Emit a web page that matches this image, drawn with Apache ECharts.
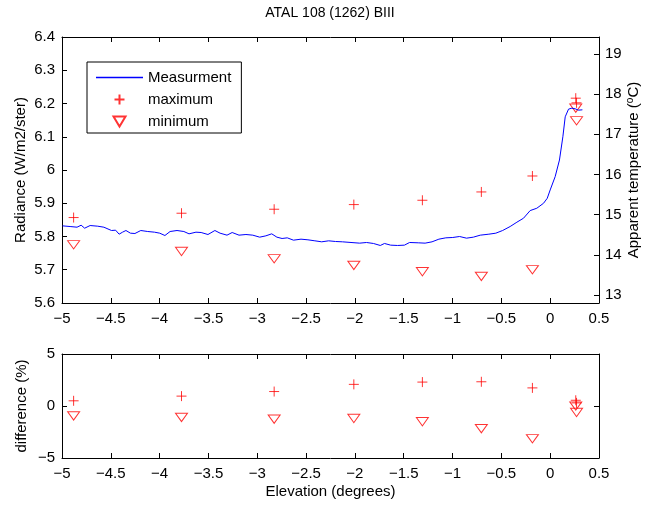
<!DOCTYPE html>
<html>
<head>
<meta charset="utf-8">
<script src="https://cdn.jsdelivr.net/npm/echarts@6/dist/echarts.min.js"></script>
<style>
  html, body { margin: 0; padding: 0; background: #fff; }
  #chart { width: 648px; height: 506px; }
</style>
</head>
<body>
<div id="chart"></div>
<script>
var elevMeas = [-4.994, -4.917, -4.846, -4.804, -4.768, -4.712, -4.634, -4.571, -4.493, -4.451,
  -4.415, -4.380, -4.345, -4.299, -4.253, -4.193, -4.122, -4.052, -3.999, -3.946,
  -3.893, -3.822, -3.752, -3.699, -3.628, -3.575, -3.505, -3.434, -3.381, -3.310,
  -3.257, -3.187, -3.116, -3.046, -2.975, -2.912, -2.852, -2.799, -2.746, -2.693,
  -2.629, -2.552, -2.481, -2.410, -2.340, -2.269, -2.199, -2.128, -2.040, -1.951,
  -1.881, -1.810, -1.740, -1.697, -1.634, -1.563, -1.493, -1.440, -1.351, -1.281,
  -1.210, -1.140, -1.069, -0.998, -0.928, -0.857, -0.787, -0.716, -0.628, -0.557,
  -0.487, -0.410, -0.341, -0.273, -0.205, -0.137, -0.068, -0.030, 0.000, 0.051,
  0.095, 0.130, 0.154, 0.188, 0.222, 0.256, 0.290, 0.330];
var radMeas = [5.832, 5.830, 5.828, 5.834, 5.825, 5.833, 5.831, 5.828, 5.818, 5.819,
  5.807, 5.813, 5.818, 5.810, 5.809, 5.818, 5.815, 5.813, 5.810, 5.803,
  5.815, 5.818, 5.815, 5.808, 5.813, 5.812, 5.806, 5.818, 5.810, 5.804,
  5.812, 5.804, 5.806, 5.804, 5.798, 5.802, 5.808, 5.798, 5.794, 5.796,
  5.789, 5.792, 5.790, 5.787, 5.784, 5.787, 5.785, 5.784, 5.782, 5.780,
  5.782, 5.779, 5.773, 5.779, 5.774, 5.773, 5.774, 5.782, 5.781, 5.780,
  5.784, 5.792, 5.796, 5.797, 5.800, 5.795, 5.798, 5.804, 5.807, 5.810,
  5.818, 5.830, 5.843, 5.855, 5.878, 5.885, 5.900, 5.915, 5.940, 5.980,
  6.030, 6.100, 6.160, 6.183, 6.186, 6.184, 6.180, 6.181];

// model max / min at the sample elevations
var elevPts = [-4.881, -3.776, -2.827, -2.011, -1.309, -0.705, -0.182, 0.262, 0.270];
var radMax = [5.857, 5.870, 5.882, 5.896, 5.909, 5.934, 5.982, 6.216, 6.202];
var radMin = [5.775, 5.755, 5.733, 5.713, 5.694, 5.680, 5.700, 6.186, 6.148];
var diffMax = [0.50, 0.95, 1.39, 2.08, 2.30, 2.33, 1.74, 0.55, 0.30];
var diffMin = [-0.95, -1.10, -1.26, -1.20, -1.51, -2.18, -3.15, 0.00, -0.62];

var tempTicks = [13, 14, 15, 16, 17, 18, 19];

var FONT = 'Liberation Sans';
var FS = 15;
var PLUS = 'path://M0,5 L10,5 M5,0 L5,10';
var TRI = 'path://M0,0 L12,0 L6,10 Z';
var LINE_ICON = 'path://M0,0 L47,0 L47,1.3 L0,1.3 Z';

function pairs(xs, ys) {
  return xs.map(function (x, i) { return [x, ys[i]]; });
}
function minus(v) {
  return String(v).replace('-', '\u2212');
}

var axisLine = { show: true, onZero: false, lineStyle: { color: '#000', width: 1 } };
var tick = { show: true, inside: true, length: 5, lineStyle: { color: '#000' } };
var label = { color: '#000', fontFamily: FONT, fontSize: FS, formatter: minus };
var nameStyle = { color: '#000', fontFamily: FONT, fontSize: FS };
var hollow = { color: 'rgba(0,0,0,0)', borderColor: '#ff0000', borderWidth: 1 };

function elevAxis(grid, pos, showLabels) {
  return {
    type: 'value', gridIndex: grid, position: pos, min: -5, max: 0.5, interval: 0.5,
    axisLine: axisLine, axisTick: tick, splitLine: { show: false },
    axisLabel: showLabels ? Object.assign({ margin: 8, showMinLabel: true, showMaxLabel: true }, label) : { show: false },
    name: (grid === 1 && showLabels) ? 'Elevation (degrees)' : '',
    nameLocation: 'middle', nameGap: 26, nameMoveOverlap: false, nameTextStyle: nameStyle
  };
}

var chart = echarts.init(document.getElementById('chart'), null, { renderer: 'canvas' });

chart.setOption({
  animation: false,
  backgroundColor: '#fff',
  title: {
    text: 'ATAL 108 (1262) BIII', left: 330, top: 6, padding: 0, textAlign: 'center',
    textStyle: { color: '#000', fontFamily: FONT, fontSize: 14, fontWeight: 'normal' }
  },
  legend: {
    data: [
      { name: 'Measurment', icon: LINE_ICON, itemStyle: { color: '#0000ff', borderWidth: 0 } },
      'maximum',
      'minimum'
    ],
    orient: 'vertical', left: 87, top: 62,
    backgroundColor: '#fff', borderColor: '#000', borderWidth: 1,
    padding: [8, 10, 4, 9], itemWidth: 47, itemHeight: 10, itemGap: 7,
    textStyle: { color: '#000', fontFamily: FONT, fontSize: FS }
  },
  grid: [
    { left: 62, top: 37, width: 537, height: 266, containLabel: false, outerBoundsMode: 'none' },
    { left: 62, top: 354, width: 537, height: 104, containLabel: false, outerBoundsMode: 'none' }
  ],
  xAxis: [
    elevAxis(0, 'bottom', true),
    elevAxis(0, 'top', false),
    elevAxis(1, 'bottom', true),
    elevAxis(1, 'top', false)
  ],
  yAxis: [
    {
      type: 'value', gridIndex: 0, position: 'left', min: 5.6, max: 6.4, interval: 0.1,
      axisLine: axisLine, axisTick: tick, splitLine: { show: false },
      axisLabel: Object.assign({ margin: 7, showMinLabel: true, showMaxLabel: true }, label),
      name: 'Radiance (W/m2/ster)', nameLocation: 'middle', nameGap: 34, nameRotate: 90,
      nameMoveOverlap: false, nameTextStyle: nameStyle
    },
    {
      type: 'value', gridIndex: 0, position: 'right', min: 12.8, max: 19.42,
      axisLine: axisLine,
      axisTick: Object.assign({ customValues: tempTicks }, tick),
      splitLine: { show: false },
      axisLabel: Object.assign({ margin: 6, customValues: tempTicks }, label),
      name: '{a|Apparent temperature (}{s|o}{a|C)}', nameLocation: 'middle', nameGap: 26, nameRotate: 90,
      nameMoveOverlap: false,
      nameTextStyle: {
        color: '#000', fontFamily: FONT, fontSize: FS,
        rich: {
          a: { color: '#000', fontFamily: FONT, fontSize: FS },
          s: { color: '#000', fontFamily: FONT, fontSize: 10, padding: [0, 0, 8, 0] }
        }
      }
    },
    {
      type: 'value', gridIndex: 1, position: 'left', min: -5, max: 5, interval: 5,
      axisLine: axisLine, axisTick: tick, splitLine: { show: false },
      axisLabel: Object.assign({ margin: 7, showMinLabel: true, showMaxLabel: true }, label),
      name: 'difference (%)', nameLocation: 'middle', nameGap: 33, nameRotate: 90,
      nameMoveOverlap: false, nameTextStyle: nameStyle
    },
    {
      type: 'value', gridIndex: 1, position: 'right', min: -5, max: 5, interval: 5,
      axisLine: axisLine, axisTick: tick, splitLine: { show: false },
      axisLabel: { show: false }
    }
  ],
  series: [
    {
      name: 'Measurment', type: 'line', xAxisIndex: 0, yAxisIndex: 0,
      data: pairs(elevMeas, radMeas), symbol: 'none', showSymbol: false,
      color: '#0000ff', lineStyle: { color: '#0000ff', width: 1 }
    },
    {
      name: 'maximum', type: 'scatter', xAxisIndex: 0, yAxisIndex: 0,
      data: pairs(elevPts, radMax), symbol: PLUS, symbolSize: 10, symbolKeepAspect: true,
      color: '#ff0000', itemStyle: hollow
    },
    {
      name: 'minimum', type: 'scatter', xAxisIndex: 0, yAxisIndex: 0,
      data: pairs(elevPts, radMin), symbol: TRI, symbolSize: [12, 10], symbolKeepAspect: true,
      color: '#ff0000', itemStyle: hollow
    },
    {
      name: 'max difference', type: 'scatter', xAxisIndex: 2, yAxisIndex: 2,
      data: pairs(elevPts, diffMax), symbol: PLUS, symbolSize: 10, symbolKeepAspect: true,
      itemStyle: hollow
    },
    {
      name: 'min difference', type: 'scatter', xAxisIndex: 2, yAxisIndex: 2,
      data: pairs(elevPts, diffMin), symbol: TRI, symbolSize: [12, 10], symbolKeepAspect: true,
      itemStyle: hollow
    }
  ]
});
</script>
</body>
</html>
